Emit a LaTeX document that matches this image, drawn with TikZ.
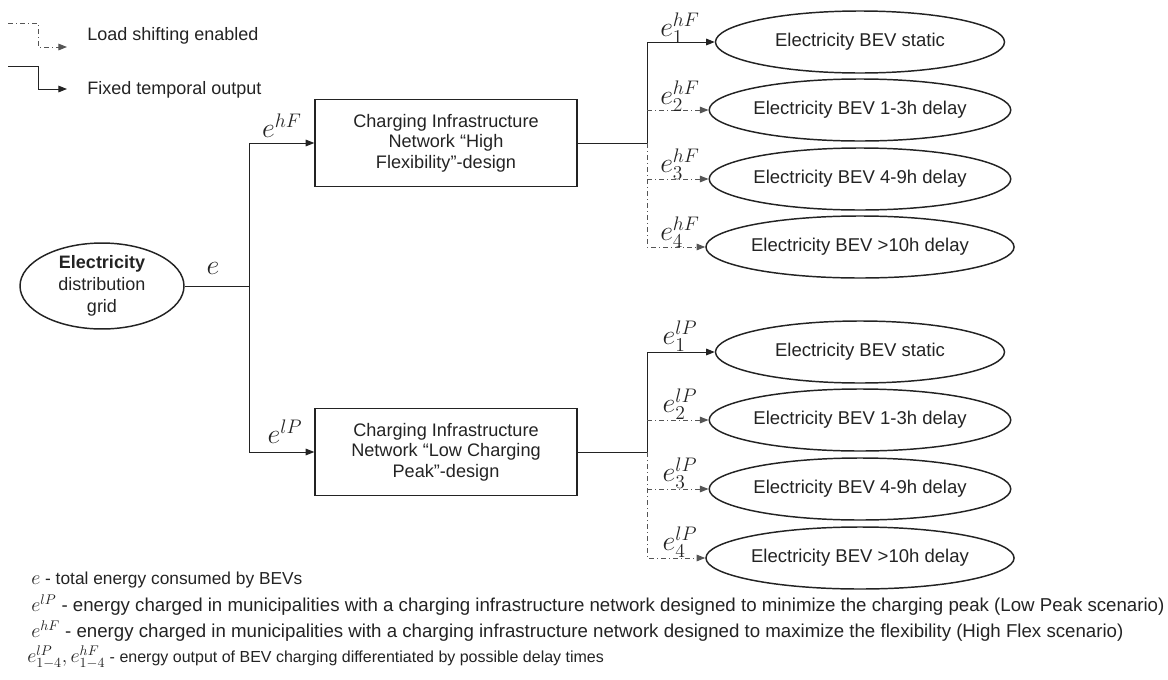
\RequirePackage{fix-cm}
\documentclass[tikz,border=0pt]{standalone}
\usepackage{fontspec}
\setmainfont{Liberation Sans}
\usetikzlibrary{
  arrows.meta,
  positioning,
  shapes.geometric,
  calc
}
\definecolor{linegray}{RGB}{35,35,35}
\definecolor{shiftgray}{RGB}{85,85,85}
\newcommand{\notemath}[1]{{\fontsize{15}{15}\selectfont$#1$}}

\tikzset{
  flowline/.style={draw=linegray, line width=0.75pt},
  shiftline/.style={draw=shiftgray, line width=0.75pt, dash pattern=on 4pt off 2pt on 1pt off 2pt},
  tip/.style={-{Triangle[length=6.5pt, width=5pt]}},
  gridnode/.style={ellipse, draw=linegray, line width=1.1pt, minimum width=123pt, minimum height=62pt, inner sep=0pt, align=center, font=\fontsize{13.5}{16.5}\selectfont},
  netbox/.style={rectangle, draw=linegray, line width=1pt, minimum width=196.5pt, minimum height=65pt, align=center, font=\fontsize{13.6}{15.5}\selectfont},
  bevnode/.style={ellipse, draw=linegray, line width=1.1pt, minimum width=216.75pt, minimum height=46.5pt, inner sep=0pt, font=\fontsize{13.9}{16}\selectfont},
  flowlabel/.style={inner sep=0pt, font=\fontsize{21}{24}\selectfont},
  keytext/.style={anchor=west, inner sep=0pt, font=\fontsize{13.5}{16}\selectfont},
  notetext/.style={anchor=west, inner sep=0pt, font=\fontsize{12}{14}\selectfont},
  widenote/.style={notetext, font=\fontsize{14}{16}\selectfont}
}

\begin{document}
\begin{tikzpicture}[x=0.75pt, y=-0.75pt, text=linegray]
  \useasboundingbox (0,0) rectangle (1168,679);

  % key
  \coordinate (ls0) at (8,23);
  \coordinate (ls1) at (67,47);
  \coordinate (fx0) at (8,66);
  \coordinate (fx1) at (67,89);
  \draw[shiftline, tip] (ls0) -- ++(30,0) |- (ls1);
  \draw[flowline, tip] (fx0) -- ++(30,0) |- (fx1);
  \node[keytext] (lstext) at (87,36) {Load shifting enabled};
  \node[keytext] (fxtext) at (87,90) {Fixed temporal output};

  % source and networks
  \node[gridnode] (grid) at (102,286) {\textbf{Electricity}\\distribution\\grid};
  \coordinate (split) at (249,286);
  \node[netbox] (hfbox) at (446,143) {Charging Infrastructure\\Network “High\\Flexibility”-design};
  \node[netbox] (lpbox) at (446,452) {Charging Infrastructure\\Network “Low Charging\\Peak”-design};

  \draw[flowline] (grid.east) -- (split);
  \draw[flowline, tip] (split) |- (hfbox.west);
  \draw[flowline, tip] (split) |- (lpbox.west);
  \node[flowlabel] (elab) at (213,268) {$e$};
  \node[flowlabel] (hflab) at (282,126) {$e^{hF}$};
  \node[flowlabel] (lplab) at (285,432) {$e^{lP}$};

  % outputs high flexibility
  \node[bevnode] (hf1) at (860,42) {Electricity BEV static};
  \node[bevnode] (hf2) at (860,110) {Electricity BEV 1-3h delay};
  \node[bevnode] (hf3) at (860,179) {Electricity BEV 4-9h delay};
  \node[bevnode] (hf4) at (860,247) {Electricity BEV >10h delay};
  \coordinate (hfsplit) at (647,143);
  \draw[flowline] (hfbox.east) -- (hfsplit);
  \draw[flowline, tip] (hfsplit) |- (hf1.west);
  \draw[shiftline, tip] (hfsplit |- hf2.west) -- (hf2.west);
  \draw[shiftline, tip] (hfsplit) |- (hf4.west);
  \draw[shiftline, tip] (hfsplit |- hf3.west) -- (hf3.west);
  \node[flowlabel] (hf1lab) at (680,28) {$e_1^{hF}$};
  \node[flowlabel] (hf2lab) at (680,96) {$e_2^{hF}$};
  \node[flowlabel] (hf3lab) at (680,164) {$e_3^{hF}$};
  \node[flowlabel] (hf4lab) at (680,232) {$e_4^{hF}$};

  % outputs low peak
  \node[bevnode] (lp1) at (860,352) {Electricity BEV static};
  \node[bevnode] (lp2) at (860,420) {Electricity BEV 1-3h delay};
  \node[bevnode] (lp3) at (860,489) {Electricity BEV 4-9h delay};
  \node[bevnode] (lp4) at (860,558) {Electricity BEV >10h delay};
  \coordinate (lpsplit) at (647,452);
  \draw[flowline] (lpbox.east) -- (lpsplit);
  \draw[flowline, tip] (lpsplit) |- (lp1.west);
  \draw[shiftline, tip] (lpsplit |- lp2.west) -- (lp2.west);
  \draw[shiftline, tip] (lpsplit) |- (lp4.west);
  \draw[shiftline, tip] (lpsplit |- lp3.west) -- (lp3.west);
  \node[flowlabel] (lp1lab) at (680,336) {$e_1^{lP}$};
  \node[flowlabel] (lp2lab) at (680,404) {$e_2^{lP}$};
  \node[flowlabel] (lp3lab) at (680,473) {$e_3^{lP}$};
  \node[flowlabel] (lp4lab) at (680,542) {$e_4^{lP}$};

  % notes
  \node[notetext, font=\fontsize{13}{15}\selectfont] (note1) at (31,580) {\notemath{e} - total energy consumed by BEVs};
  \node[widenote] (note2) at (31,605) {\notemath{e^{lP}} - energy charged in municipalities with a charging infrastructure network designed to minimize the charging peak (Low Peak scenario)};
  \node[widenote] (note3) at (31,631) {\notemath{e^{hF}} - energy charged in municipalities with a charging infrastructure network designed to maximize the flexibility (High Flex scenario)};
  \node[notetext] (note4) at (27,657) {\notemath{e^{lP}_{1-4}, e^{hF}_{1-4}} - energy output of BEV charging differentiated by possible delay times};
\end{tikzpicture}
\end{document}
